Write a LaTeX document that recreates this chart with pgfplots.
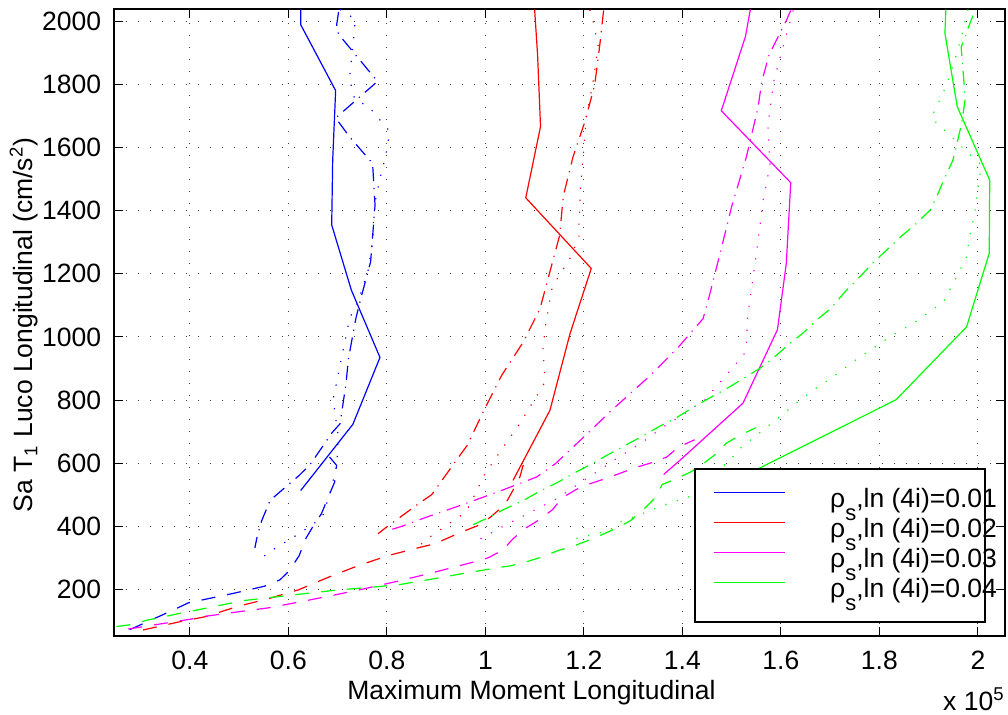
\documentclass[border=0pt]{standalone}
\usepackage{fontspec}
\setmainfont{Liberation Sans}
\usepackage{pgfplots}
\pgfplotsset{compat=1.18}
\definecolor{lineB}{RGB}{0,0,255}
\definecolor{lineR}{RGB}{255,0,0}
\definecolor{lineM}{RGB}{255,0,255}
\definecolor{lineG}{RGB}{0,255,0}
\tikzset{
  mydash/.style={dash pattern=on 7pt off 6pt},
  mydashdot/.style={dash pattern=on 7pt off 3.4pt on 0.6pt off 3.4pt},
  mydot/.style={dash pattern=on 0.6pt off 5.4pt},
}
\newcommand{\leg}[1]{\makebox[68.5pt][l]{ρ\raisebox{-0.5em}{\fontsize{11pt}{12pt}\selectfont s},ln (4i)=#1}}
\begin{document}
\begin{tikzpicture}[font=\fontsize{13.25pt}{15pt}\selectfont]
\useasboundingbox (-57pt,-39.5pt) rectangle (447pt,318pt);
\begin{axis}[
  scale only axis, width=445.5pt, height=313.25pt,
  xmin=0.246, xmax=2.055, ymin=52, ymax=2038,
  xtick={0.4,0.6,0.8,1.0,1.2,1.4,1.6,1.8,2.0},
  xticklabels={0.4,0.6,0.8,1,1.2,1.4,1.6,1.8,2},
  ytick={200,400,600,800,1000,1200,1400,1600,1800,2000},
  yticklabels={200,400,600,800,1000,1200,1400,1600,1800,2000},
  tick align=inside, major tick length=4.5pt,
  tick style={black, line width=0.5pt},
  xticklabel style={anchor=north, inner sep=0pt, yshift=-7.3pt},
  yticklabel style={anchor=east, inner sep=0pt, xshift=-6.2pt},
  grid=major,
  major grid style={black!75, line width=0.5pt, dash pattern=on 0.6pt off 5.4pt},
  axis line style={line width=1pt},
  every axis plot/.append style={line width=0.6pt, line join=round},
  no markers,
  legend style={at={(0.651,0.268)}, anchor=north west, draw=black, line width=1pt,
    fill=white, inner xsep=9pt, inner ysep=8.2pt, row sep=0pt,
    nodes={inner sep=0pt, text height=10.9pt, text depth=4.1pt},
    /tikz/every odd column/.append style={column sep=22.5pt}},
  legend cell align=left,
  legend image code/.code={\draw[#1, line width=0.6pt, solid] (0pt,3.9pt) -- (35.5pt,3.9pt);},
]
% ---------- solid lines (legend) ----------
\addplot[lineB, solid] table {
0.625 2038
0.625 1990
0.696 1781
0.690 1560
0.688 1355
0.728 1148
0.786 935
0.731 723
0.681 624
0.625 513
};
\addlegendentry{\leg{0.01}}
\addplot[lineR, solid] table {
1.100 2038
1.106 1894
1.112 1667
1.082 1441
1.215 1217
1.172 1011
1.131 767
1.056 545
};
\addlegendentry{\leg{0.02}}
\addplot[lineM, solid] table {
1.538 2038
1.528 1952
1.479 1717
1.620 1489
1.611 1233
1.593 1023
1.523 790
1.395 609
1.362 564
};
\addlegendentry{\leg{0.03}}
\addplot[lineG, solid] table {
1.935 2038
1.933 1963
1.958 1730
2.024 1497
2.023 1265
1.977 1032
1.834 801
1.554 582
1.500 540
};
\addlegendentry{\leg{0.04}}
% ---------- blue ----------
\addplot[lineB, mydash, forget plot] table {
0.278 72
0.363 132
0.397 157
0.488 187
0.552 210
0.583 230
0.602 259
0.622 307
0.634 357
0.651 402
0.667 439
0.681 492
0.694 540
0.698 593
0.681 624
};
\addplot[lineB, mydashdot, forget plot] table {
0.702 2030
0.698 1989
0.701 1964
0.708 1948
0.781 1810
0.696 1694
0.725 1633
0.771 1550
0.776 1418
0.767 1238
0.748 1127
0.737 1058
0.722 931
0.717 852
0.705 725
0.688 695
0.671 656
0.644 595
0.622 561
0.586 513
0.563 482
0.546 418
0.537 370
0.532 331
};
\addplot[lineB, mydot, forget plot] table {
0.705 2038
0.736 2007
0.732 1933
0.724 1820
0.735 1751
0.762 1732
0.806 1651
0.798 1577
0.786 1503
0.776 1427
0.772 1349
0.772 1307
0.762 1212
0.738 1095
0.725 1063
0.710 949
0.691 801
0.701 688
0.699 611
0.696 575
0.684 503
0.669 429
0.649 405
0.610 365
0.568 325
0.548 302
};
% ---------- red ----------
\addplot[lineR, mydash, forget plot] table {
0.305 71
0.373 95
0.434 114
0.495 145
0.559 170
0.620 198
0.681 238
0.742 275
0.803 307
0.867 333
0.897 344
0.952 382
0.990 405
1.012 431
1.040 469
1.055 511
1.070 556
1.078 600
};
\addplot[lineR, mydashdot, forget plot] table {
1.240 2035
1.232 1921
1.222 1799
1.202 1682
1.178 1571
1.158 1445
1.151 1323
1.111 1090
1.077 984
1.033 878
0.997 767
0.963 656
0.948 624
0.891 500
0.864 471
0.823 424
0.799 397
0.782 376
};
\addplot[lineR, mydot, forget plot] table {
1.212 2037
1.219 2000
1.229 1923
1.219 1812
1.205 1696
1.199 1584
1.193 1471
1.190 1357
1.190 1317
1.173 1252
1.146 1185
1.134 1148
1.123 1043
1.117 968
1.120 889
1.119 852
1.107 820
1.069 723
1.040 659
0.999 566
0.967 463
0.955 439
0.891 370
0.872 346
0.851 325
};
% ---------- magenta ----------
\addplot[lineM, mydash, forget plot] table {
0.275 74
0.400 105
0.434 115
0.495 128
0.559 141
0.623 160
0.691 181
0.752 201
0.820 225
0.884 249
0.975 286
1.006 300
1.036 325
1.056 360
1.083 395
1.109 420
1.136 452
1.156 490
1.184 516
1.213 535
1.246 552
1.274 568
1.307 587
1.335 600
1.368 619
1.392 651
1.425 674
};
\addplot[lineM, mydashdot, forget plot] table {
1.620 2035
1.611 2003
1.598 1963
1.576 1894
1.561 1809
1.554 1730
1.530 1571
1.500 1413
1.474 1249
1.455 1132
1.442 1058
1.392 968
1.335 878
1.256 767
1.200 683
1.142 598
1.104 556
1.029 511
0.955 469
0.881 429
0.829 399
0.800 385
};
\addplot[lineM, mydot, forget plot] table {
1.625 2035
1.611 1958
1.586 1813
1.576 1698
1.574 1662
1.578 1545
1.564 1434
1.555 1321
1.545 1206
1.532 1058
1.530 981
1.525 945
1.493 886
1.446 801
1.405 757
1.362 716
1.324 672
1.263 611
1.202 547
1.141 484
1.075 431
1.033 397
0.990 360
};
% ---------- green ----------
\addplot[lineG, mydash, forget plot] table {
0.251 82
0.281 88
0.315 103
0.342 111
0.380 124
0.407 132
0.508 164
0.637 187
0.701 198
0.765 206
0.826 215
0.894 233
0.958 251
0.989 259
1.023 268
1.053 275
1.087 289
1.114 302
1.148 323
1.177 336
1.209 355
1.238 374
1.268 395
1.295 418
1.319 450
1.343 487
1.359 532
1.387 550
1.418 573
1.442 598
1.469 630
1.489 663
1.520 691
1.549 712
};
\addplot[lineG, mydashdot, forget plot] table {
0.975 405
1.009 429
1.036 452
1.080 484
1.107 508
1.148 540
1.175 564
1.219 600
1.246 624
1.287 659
1.314 681
1.354 717
1.385 741
1.423 778
1.449 801
1.493 839
1.518 863
1.557 900
1.583 931
1.618 979
1.644 1011
1.679 1062
1.699 1087
1.733 1148
1.754 1180
1.787 1235
1.811 1270
1.845 1320
1.869 1351
1.903 1402
1.917 1447
1.935 1513
1.949 1559
1.960 1630
1.967 1677
1.974 1751
1.972 1800
1.966 1919
1.984 1995
1.995 2038
};
\addplot[lineG, mydot, forget plot] table {
1.980 2038
1.977 2021
1.966 1947
1.952 1873
1.937 1801
1.917 1732
1.906 1698
1.919 1672
1.938 1648
1.972 1595
2.007 1545
2.000 1471
1.994 1397
1.984 1323
1.976 1249
1.964 1214
1.953 1180
1.930 1111
1.892 1069
1.872 1046
1.829 1008
1.789 966
1.749 924
1.710 878
1.669 835
1.631 790
1.593 741
1.554 693
1.517 646
1.500 616
1.440 525
1.412 492
1.364 468
1.320 441
1.274 413
1.251 386
1.182 360
};
\end{axis}
\node[anchor=base] at (208.75pt,-32pt) {Maximum Moment Longitudinal};
\node[anchor=base, rotate=90] at (-40.5pt,155.5pt) {Sa T\textsubscript{1} Luco Longitudinal (cm/s\textsuperscript{2})};
\node[anchor=base east, inner sep=0pt] at (445.5pt,-37.5pt) {x 10\textsuperscript{5}};
\end{tikzpicture}
\end{document}
